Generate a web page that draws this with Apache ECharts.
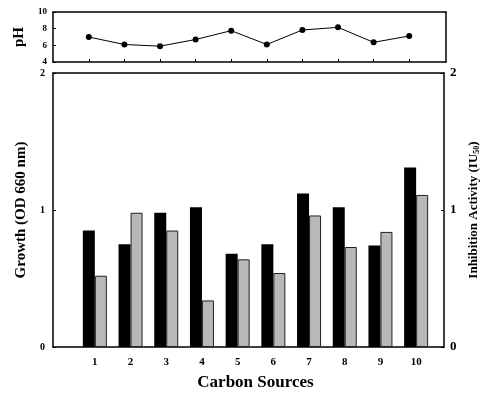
<!DOCTYPE html>
<html>
<head>
<meta charset="utf-8">
<title>Carbon Sources</title>
<script src="https://cdn.jsdelivr.net/npm/echarts@6.0.0/dist/echarts.min.js"></script>
<style>
    html, body { margin: 0; padding: 0; background: #fff; }
    #main { width: 491px; height: 399px; }
</style>
</head>
<body>
<div id="main"></div>
<script type="text/javascript">
    // data
    var sources = ['1', '2', '3', '4', '5', '6', '7', '8', '9', '10'];
    var growth = [0.85, 0.75, 0.98, 1.02, 0.68, 0.75, 1.12, 1.02, 0.74, 1.31];
    var inhibition = [0.52, 0.98, 0.85, 0.34, 0.64, 0.54, 0.96, 0.73, 0.84, 1.11];
    var ph = [7.0, 6.1, 5.9, 6.7, 7.76, 6.1, 7.84, 8.16, 6.36, 7.12];

    var font = 'Liberation Serif';
    var line = {show: true, onZero: false, lineStyle: {color: '#000', width: 1.5}};
    var noLine = {show: false};
    var tick = {show: true, inside: true, length: 3, lineStyle: {color: '#000'}};

    var myChart = echarts.init(document.getElementById('main'));

    var option = {
        animation: false,
        textStyle: {fontFamily: font, fontWeight: 'bold', color: '#000'},
        grid: [
            // pH frame
            {left: 53, right: 45, top: 12, bottom: 337},
            // pH points
            {left: 71, right: 64, top: 12, bottom: 337},
            // main frame
            {left: 53, right: 47, top: 73, bottom: 52},
            // bars
            {left: 77, right: 57, top: 73, bottom: 52}
        ],
        xAxis: [
            {gridIndex: 0, type: 'value', position: 'bottom', axisLine: line, axisTick: noLine, axisLabel: noLine, splitLine: noLine},
            {gridIndex: 0, type: 'value', position: 'top', axisLine: line, axisTick: noLine, axisLabel: noLine, splitLine: noLine},
            {gridIndex: 1, type: 'category', data: sources, axisLine: noLine,
                axisTick: {show: true, inside: true, length: 3, alignWithLabel: true, lineStyle: {color: '#000'}},
                axisLabel: noLine},
            {gridIndex: 2, type: 'value', position: 'bottom', axisLine: line, axisTick: noLine, axisLabel: noLine, splitLine: noLine},
            {gridIndex: 2, type: 'value', position: 'top', axisLine: line, axisTick: noLine, axisLabel: noLine, splitLine: noLine},
            {gridIndex: 3, type: 'category', data: sources, axisLine: noLine, axisTick: noLine,
                axisLabel: {margin: 10, fontSize: 11, fontWeight: 'bold', fontFamily: font, color: '#000'},
                name: 'Carbon Sources', nameLocation: 'middle', nameGap: 27,
                nameTextStyle: {fontSize: 17, fontWeight: 'bold', fontFamily: font, color: '#000'}}
        ],
        yAxis: [
            {gridIndex: 0, type: 'value', min: 4, max: 10, interval: 2, position: 'left',
                axisLine: line, axisTick: tick,
                axisLabel: {margin: 6, fontSize: 9, fontWeight: 'bold', fontFamily: font, color: '#000'},
                splitLine: noLine,
                name: 'pH', nameLocation: 'middle', nameGap: 25,
                nameTextStyle: {fontSize: 15, fontWeight: 'bold', fontFamily: font, color: '#000'}},
            {gridIndex: 0, type: 'value', min: 4, max: 10, position: 'right',
                axisLine: line, axisTick: noLine, axisLabel: noLine, splitLine: noLine},
            {gridIndex: 1, type: 'value', min: 4, max: 10, show: false},
            {gridIndex: 2, type: 'value', min: 0, max: 2, interval: 1, position: 'left',
                axisLine: line, axisTick: tick,
                axisLabel: {margin: 8, fontSize: 10, fontWeight: 'bold', fontFamily: font, color: '#000'},
                splitLine: noLine,
                name: 'Growth (OD 660 nm)', nameLocation: 'middle', nameGap: 22,
                nameTextStyle: {fontSize: 15, fontWeight: 'bold', fontFamily: font, color: '#000'}},
            {gridIndex: 2, type: 'value', min: 0, max: 2, interval: 1, position: 'right',
                axisLine: line, axisTick: tick,
                axisLabel: {margin: 6, fontSize: 13, fontWeight: 'bold', fontFamily: font, color: '#000'},
                splitLine: noLine,
                name: '{a|Inhibition Activity (IU}{s|50}{a|)}', nameLocation: 'middle', nameGap: 19,
                nameTextStyle: {
                    rich: {
                        a: {fontSize: 13, fontWeight: 'bold', fontFamily: font, color: '#000'},
                        s: {fontSize: 8, fontWeight: 'bold', fontFamily: font, color: '#000', verticalAlign: 'bottom', padding: [7, 0, 0, 0]}
                    }
                }},
            {gridIndex: 3, type: 'value', min: 0, max: 2, show: false}
        ],
        series: [
            {
                name: 'pH', type: 'line', xAxisIndex: 2, yAxisIndex: 2, data: ph,
                symbol: 'circle', symbolSize: 6,
                lineStyle: {color: '#000', width: 1},
                itemStyle: {color: '#000'}
            },
            {
                name: 'Growth', type: 'bar', xAxisIndex: 5, yAxisIndex: 5, data: growth,
                barWidth: 12, barGap: '0%',
                itemStyle: {color: '#000'}
            },
            {
                name: 'Inhibition', type: 'bar', xAxisIndex: 5, yAxisIndex: 5, data: inhibition,
                barWidth: 12, barGap: '0%',
                itemStyle: {color: '#b8b8b8', borderColor: '#222', borderWidth: 1}
            }
        ]
    };

    myChart.setOption(option);
</script>
</body>
</html>
